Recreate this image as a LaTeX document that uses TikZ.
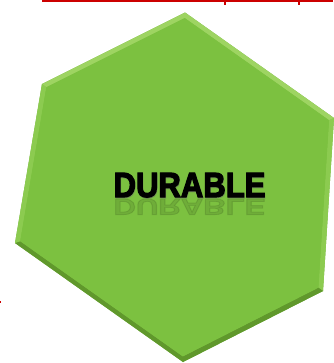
\documentclass[tikz,border=0pt]{standalone}
\usepackage{fontspec}
\usepackage{tikz}
\usetikzlibrary{calc}
\newfontfamily\heavyfont[BoldFeatures={FakeBold=3.5}]{Liberation Sans}
\definecolor{leafgreen}{RGB}{124,193,64}
\definecolor{lightleaf}{RGB}{158,212,98}
\definecolor{paleleaf}{RGB}{140,203,80}
\definecolor{darkleaf}{RGB}{96,152,44}
\definecolor{markred}{RGB}{204,0,0}

\begin{document}
\begin{tikzpicture}[x=0.03cm, y=-0.03cm,
  rule/.style={markred, line width=0.06cm},
  word/.style={font=\heavyfont\bfseries\fontsize{29.8}{30}\selectfont,
               inner sep=0pt, anchor=base}
]
  \useasboundingbox[fill=white] (0,0) rectangle (333,363);
  \coordinate (c) at (178,187);
  \coordinate (t) at (185,12.5);
  \coordinate (ur) at (334,118);
  \coordinate (lr) at (323,291);
  \coordinate (b) at (183,362);
  \coordinate (ll) at (15,243);
  \coordinate (ul) at (42,84);
  \foreach \v in {t,ur,lr,b,ll,ul}
    \coordinate (\v i) at ($(\v)!0.032!(c)$);

  \fill[black, opacity=0.12, xshift=0.06cm, yshift=-0.12cm]
    (t) -- (ur) -- (lr) -- (b) -- (ll) -- (ul) -- cycle;
  \fill[leafgreen] (t) -- (ur) -- (lr) -- (b) -- (ll) -- (ul) -- cycle;
  \fill[lightleaf] (t) -- (ul) -- (uli) -- (ti) -- cycle;
  \fill[lightleaf] (t) -- (ur) -- (uri) -- (ti) -- cycle;
  \fill[paleleaf] (ur) -- (lr) -- (lri) -- (uri) -- cycle;
  \fill[darkleaf] (lr) -- (b) -- (bi) -- (lri) -- cycle;
  \fill[darkleaf] (b) -- (ll) -- (lli) -- (bi) -- cycle;
  \fill[paleleaf] (ll) -- (ul) -- (uli) -- (lli) -- cycle;
  \fill[leafgreen] (ti) -- (uri) -- (lri) -- (bi) -- (lli) -- (uli) -- cycle;

  \node[word, text=black, opacity=0.1] (mirror) at (189.5,199)
    {\scalebox{0.89}[-0.65]{DURABLE}};
  \node[word, text=black!60, opacity=0.4] (shadow) at (190,198)
    {\scalebox{0.89}[1]{DURABLE}};
  \node[word] (durable) at (189.5,197) {\scalebox{0.89}[1]{DURABLE}};

  \draw[rule] (42,1) -- (333,1);
  \fill[markred] (224,2) rectangle (226,4.5);
  \fill[markred] (298,2) rectangle (300,4.5);
  \fill[markred] (0,301) rectangle (1.2,303);
\end{tikzpicture}
\end{document}
